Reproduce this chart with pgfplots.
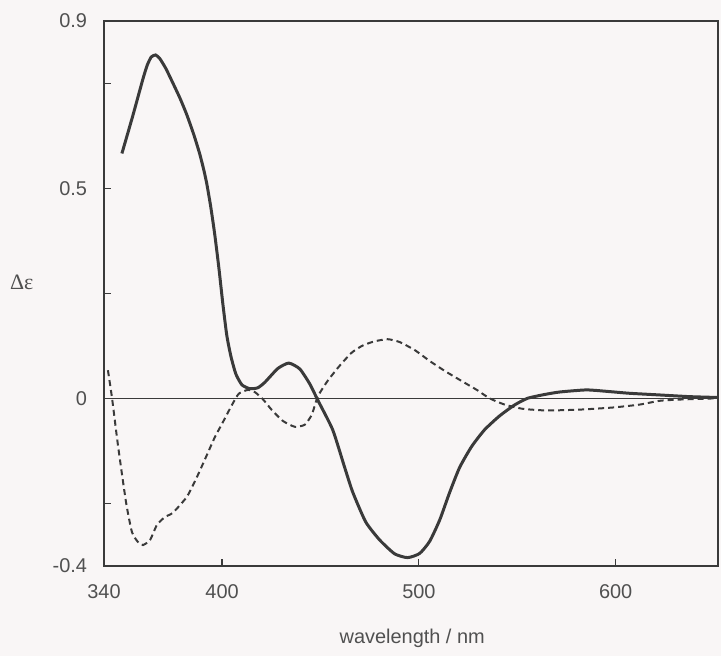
\documentclass[border=0pt]{standalone}
\usepackage{fontspec}
\setmainfont{Liberation Sans}
\newfontfamily\seriffont{Liberation Serif}
\usepackage{pgfplots}
\pgfplotsset{compat=1.18}
\definecolor{ink}{HTML}{3A3A3A}
\definecolor{txt}{HTML}{505050}
\definecolor{paper}{HTML}{F9F6F6}

\begin{document}
\begin{tikzpicture}
\fill[paper] (-52bp,-45bp) rectangle (308.5bp,283bp);
\useasboundingbox (-52bp,-45bp) rectangle (308.5bp,283bp);
\begin{axis}[
    at={(0,0)}, anchor=south west,
    scale only axis,
    width=307bp, height=272.5bp,
    xmin=340, xmax=652,
    ymin=-0.4, ymax=0.9,
    axis line style={ink, line width=0.7pt},
    xtick={340,400,500,600},
    ytick={-0.4,0,0.5,0.9},
    yticklabels={-0.4,0,0.5,0.9},
    minor ytick={-0.25,0.25,0.75},
    tick style={ink, line width=0.6pt},
    major tick length=3.5bp, minor tick length=3.5bp,
    tick align=inside,
    xtick pos=bottom, ytick pos=left,
    /pgf/number format/assume math mode=true,
    ticklabel style={font=\fontsize{10}{12}\selectfont, text=txt},
    xticklabel style={yshift=-6pt},
    yticklabel style={xshift=-5pt},
    xlabel={wavelength / nm},
    xlabel style={font=\fontsize{10}{12}\selectfont, text=txt, at={(axis description cs:0.502,-0.132)}, anchor=center},
    ylabel={\seriffont Δε},
    ylabel style={font=\fontsize{11}{13}\selectfont, text=txt, rotate=-90, at={(axis description cs:-0.134,0.521)}, anchor=center},
    clip=false,
]
% zero line
\addplot[ink, line width=0.6pt] coordinates {(340,0) (652,0)};
% solid curve
\addplot[ink, line width=1.5pt, smooth, tension=0.35] coordinates {
(349.1,0.584) (354.7,0.675) (359.8,0.762) (362.0,0.795) (364.0,0.814)
(366.2,0.819) (368.4,0.810) (371.5,0.786) (375.0,0.752) (378.6,0.716) (382.1,0.676)
(385.7,0.628) (388.7,0.582) (390.8,0.543) (392.3,0.510) (394.3,0.455)
(396.3,0.390) (398.4,0.310) (400.4,0.225) (402.4,0.150) (404.5,0.100)
(407.0,0.058) (410.1,0.032) (414.1,0.023) (418.1,0.025) (421.7,0.038)
(428.3,0.071) (433.9,0.084) (439.5,0.070) (444.6,0.034) (448.6,-0.004)
(456.2,-0.075) (462.3,-0.165) (466.4,-0.224) (473.0,-0.295) (480.1,-0.338)
(487.7,-0.371) (494.3,-0.380) (500.4,-0.370) (505.5,-0.341) (510.6,-0.290)
(515.6,-0.225) (520.7,-0.165) (526.8,-0.115) (533.4,-0.075) (541.0,-0.042)
(548.6,-0.016) (555.2,0.000) (563.8,0.009) (571.5,0.015) (585.2,0.020)
(596.9,0.016) (607.0,0.012) (622.3,0.008) (637.5,0.004) (651.7,0.002)
};
% dashed curve
\addplot[ink, line width=1pt, dash pattern=on 3bp off 2bp, smooth, tension=0.35] coordinates {
(342.0,0.067) (344.1,0.000) (347.1,-0.112) (351.2,-0.248) (354.2,-0.319)
(357.3,-0.343) (359.8,-0.350) (363.4,-0.338) (366.9,-0.302) (371.0,-0.283)
(375.0,-0.273) (382.1,-0.235) (387.2,-0.188) (392.3,-0.135) (396.3,-0.093)
(400.4,-0.057) (405.0,-0.016) (408.5,0.011) (413.1,0.020) (416.6,0.015)
(420.7,-0.002) (425.3,-0.028) (430.9,-0.054) (437.0,-0.068) (442.0,-0.063)
(445.6,-0.039) (448.6,0.004) (453.7,0.042) (459.8,0.078) (465.9,0.109)
(471.5,0.126) (477.6,0.136) (484.2,0.141) (490.3,0.134) (497.9,0.115)
(505.5,0.089) (513.6,0.064) (522.2,0.040) (529.8,0.019) (535.9,0.000)
(543.6,-0.015) (552.7,-0.025) (564.9,-0.029) (581.6,-0.027) (598.4,-0.022)
(612.1,-0.015) (622.3,-0.006) (632.4,-0.003) (651.7,0.000)
};
\end{axis}
\end{tikzpicture}
\end{document}
